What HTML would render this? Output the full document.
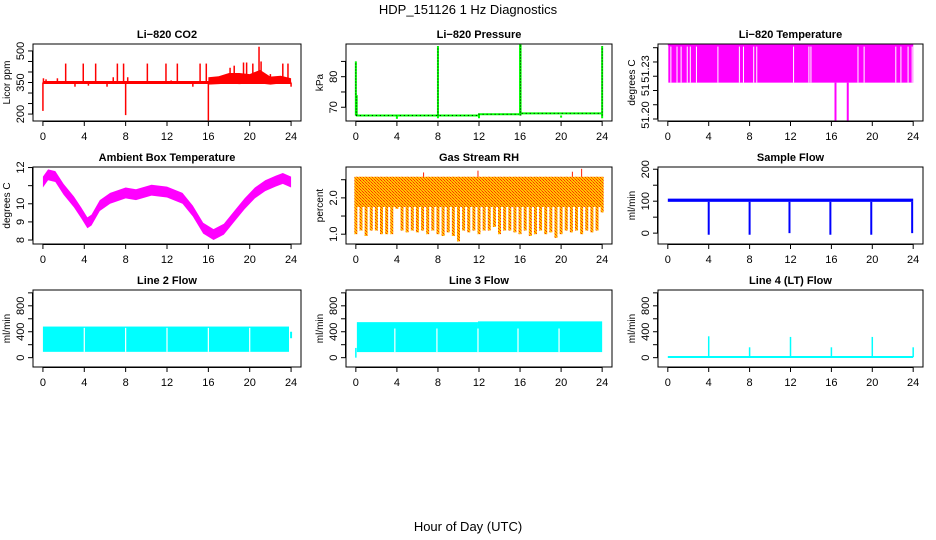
<!DOCTYPE html>
<html><head><meta charset="utf-8"><style>
html,body{margin:0;padding:0;background:#fff;}
svg{display:block;font-family:"Liberation Sans",sans-serif;}
</style></head><body>
<svg id="chart" width="936" height="540" viewBox="0 0 936 540" xmlns="http://www.w3.org/2000/svg">
<defs>
<pattern id="rhpat" width="3" height="3" patternUnits="userSpaceOnUse">
<rect width="3" height="3" fill="#ffc400"/><rect width="1" height="1" fill="#ff3000"/><rect x="1" y="1" width="1" height="1" fill="#ff6000"/><rect x="2" y="2" width="1" height="1" fill="#ff3000"/>
</pattern>
</defs>
<text x="468" y="14" text-anchor="middle" font-size="13">HDP_151126  1 Hz Diagnostics</text>
<text x="468" y="531" text-anchor="middle" font-size="13">Hour of Day (UTC)</text>
</svg>
<script>
// ---- data ----
const xTicks = [0,4,8,12,16,20,24];
// CO2
const co2Base = 350;
const co2SpikeT = [0,0.05,0.3,1.4,2.2,3.1,3.9,4.4,5.1,6.2,6.8,7.2,7.8,8.0,8.2,10.1,11.9,12.4,13.0,14.5,15.2,15.8,16.0,18.1,18.5,19.4,19.7,20.3,20.9,21.1,22.0,23.2,23.7,24];
const co2SpikeV = [215,370,365,370,440,330,440,335,440,330,375,440,440,195,375,440,440,360,440,330,440,440,170,420,430,445,445,440,520,450,390,440,440,330];
const co2BandT = [16,17,18,19,20,21,22,23,24];
const co2BandHi = [375,380,395,395,390,410,378,382,370];
const co2BandLo = [340,342,345,342,345,345,340,345,345];
// Pressure
const presBase = 67.3;
const presSpikeT = [0,0.08,8.0,16.0,16.05,24.0];
const presSpikeV = [85,74,90,90.5,90.5,90];
const presDipT = [4.0,8.0,12.0,20.0,24.0];
const presDipV = [66.2,66.4,66.4,66.6,66.4];
const presStepT = [12.0,16.0];
const presStepV = [67.7,68.0];
// Li-820 Temperature
const tempHi = 51.2522, tempLo = 51.2255;
const tempGapT = [0.3,0.9,1.3,1.9,2.2,2.8,4.9,7.0,7.4,8.4,8.7,12.3,13.8,14.0,18.6,19.2,22.3,22.8,23.5,23.9];
const tempDropT = [16.4,17.6];
const tempDropV = [51.199,51.199];
// Ambient box temperature
const ambT = [0,0.5,1.2,2,3,3.7,4.3,4.7,5.5,6.5,8,9,10.5,12,13.5,14.5,15.5,16.5,17.5,18.5,19.5,20.5,21.5,22.5,23.2,24];
const ambV = [11.2,11.6,11.5,10.8,10.1,9.5,8.95,9.1,9.9,10.3,10.6,10.5,10.75,10.65,10.3,9.6,8.65,8.3,8.6,9.3,10.0,10.6,11.0,11.25,11.4,11.2];
// Gas stream RH
const rhTop = 2.58;
const rhLow = [1.0,1.1,0.95,1.1,1.1,1.0,1.0,1.0,1.7,1.1,1.05,1.1,1.05,1.1,1.0,1.1,1.0,0.95,1.05,0.95,0.8,1.1,1.05,1.1,1.0,1.1,1.1,1.2,1.0,1.1,1.1,1.05,1.0,1.1,0.95,1.0,1.1,1.0,1.05,0.9,1.0,1.1,1.05,1.1,1.0,1.1,1.05,1.1,1.6];
const rhSpikeT = [6.6,11.9,21.1,22.0];
const rhSpikeV = [2.7,2.75,2.72,2.8];
// Sample flow
const sfHi = 108, sfLo = 98;
const sfDropT = [4,8,11.9,15.9,19.9,23.9];
const sfDropV = [-5,-5,0,-5,-5,0];
// Line 2
const l2Hi = 480, l2Lo = 90;
const l2GapT = [4,8,12,16,20];
// Line 3
const l3SegT = [0.1,11.9,24];
const l3Hi = [548,560];
const l3Lo = 86;
const l3GapT = [3.8,7.9,11.9,15.8,19.8];
// Line 4
const l4Base = 10;
const l4SpikeT = [4,8,12,16,20,24];
const l4SpikeV = [330,160,320,160,320,160];

// ---- layout ----
const NS = "http://www.w3.org/2000/svg";
const svg = document.getElementById('chart');
const cols = [[33,301],[346,612],[658,923]];
const rows = [[44,121],[167,244],[290,367]];
function mk(tag, attrs, parent){
  const e = document.createElementNS(NS, tag);
  for (const k in attrs) e.setAttribute(k, attrs[k]);
  (parent||svg).appendChild(e);
  return e;
}
function panel(ci, ri, title, ylab, ymin, ymax, yticks, ylabels, name){
  const [x0,x1] = cols[ci], [y0,y1] = rows[ri];
  const g = mk('g', {});
  
  
  const sx = t => x0 + (t + 0.96) / 25.92 * (x1 - x0);
  const sy = v => y1 - (v - ymin) / (ymax - ymin) * (y1 - y0);
  const plot = mk('g', {}, g);
  
  
  const fr = mk('rect', {x:x0, y:y0, width:x1-x0, height:y1-y0, fill:'none', stroke:'#000', 'stroke-width':1}, g);
  
  
  const tt = mk('text', {x:(x0+x1)/2, y:y0-6, 'text-anchor':'middle', 'font-size':11, 'font-weight':'bold'}, g);
  tt.textContent = title;
  
  
  mk('line', {x1:sx(0), x2:sx(24), y1:y1+0.5, y2:y1+0.5, stroke:'#000'}, g);
  xTicks.forEach(t => {
    mk('line', {x1:sx(t), x2:sx(t), y1:y1, y2:y1+5, stroke:'#000'}, g);
    const l = mk('text', {x:sx(t), y:y1+19, 'text-anchor':'middle', 'font-size':11}, g);
    l.textContent = t;
    
    
  });
  mk('line', {x1:x0-0.5, x2:x0-0.5, y1:sy(yticks[0]), y2:sy(yticks[yticks.length-1]), stroke:'#000'}, g);
  yticks.forEach(v => mk('line', {x1:x0-5, x2:x0, y1:sy(v), y2:sy(v), stroke:'#000'}, g));
  ylabels.forEach(v => {
    const yy = sy(v);
    const l = mk('text', {x:x0-9, y:yy, 'text-anchor':'middle', 'font-size':11, transform:`rotate(-90 ${x0-9} ${yy})`}, g);
    l.textContent = v;
    
    
  });
  const ym = (y0+y1)/2, yx = x0 - 23;
  const yl = mk('text', {x:yx, y:ym, 'text-anchor':'middle', 'font-size':10, transform:`rotate(-90 ${yx} ${ym})`}, g);
  yl.textContent = ylab;
  
  
  return {sx, sy, g:plot};
}
function vline(p, t, a, b, color, w, dash){
  const e = mk('line', {x1:p.sx(t), x2:p.sx(t), y1:p.sy(a), y2:p.sy(b), stroke:color, 'stroke-width':w||1}, p.g);
  if (dash) e.setAttribute('stroke-dasharray', dash);
}
function band(p, t0, t1, lo, hi, fill){
  mk('rect', {x:p.sx(t0), y:p.sy(hi), width:p.sx(t1)-p.sx(t0), height:p.sy(lo)-p.sy(hi), fill:fill}, p.g);
}

// CO2
let p = panel(0,0,'Li\u2212820 CO2','Licor ppm',167,533,[200,250,300,350,400,450,500],[200,350,500],'co2');
{
  let up = co2BandT.map((t,i)=>p.sx(t)+','+p.sy(co2BandHi[i])).join(' ');
  let dn = co2BandT.slice().reverse().map((t,i)=>p.sx(t)+','+p.sy(co2BandLo[co2BandT.length-1-i])).join(' ');
  mk('polygon', {points: up+' '+dn, fill:'#ff0000'}, p.g);
  mk('line', {x1:p.sx(0), x2:p.sx(24), y1:p.sy(co2Base), y2:p.sy(co2Base), stroke:'#ff0000', 'stroke-width':3}, p.g);
  co2SpikeT.forEach((t,i)=>vline(p,t,co2Base,co2SpikeV[i],'#ff0000',1.5));
}
// Pressure
p = panel(1,0,'Li\u2212820 Pressure','kPa',65.5,90.7,[70,75,80,85],[70,80],'pressure');
{
  let pts = [[0,presBase]];
  presStepT.forEach((t,i)=>{ pts.push([t, i? presStepV[i-1]:presBase]); pts.push([t, presStepV[i]]); });
  pts.push([24, presStepV[presStepV.length-1]]);
  const ps = pts.map(q=>p.sx(q[0])+','+p.sy(q[1])).join(' ');
  mk('polyline', {points: ps, fill:'none', stroke:'#00ff00', 'stroke-width':2}, p.g);
  mk('polyline', {points: ps, fill:'none', stroke:'#000', 'stroke-width':1, 'stroke-dasharray':'1,3'}, p.g);
  presSpikeT.forEach((t,i)=>{ vline(p,t,presBase,presSpikeV[i],'#00ff00',2); vline(p,t,presBase,presSpikeV[i],'#000',1,'1,2'); });
  presDipT.forEach((t,i)=>vline(p,t,presBase,presDipV[i],'#00ff00',2));
}
// Li-820 Temperature
p = panel(2,0,'Li\u2212820 Temperature','degrees C',51.1986,51.2526,[51.20,51.21,51.22,51.23,51.24,51.25],[],'li820-temperature');
{
  band(p, 0.05, 24, tempLo, tempHi, '#ff00ff');
  mk('line', {x1:p.sx(0), x2:p.sx(24), y1:p.sy(tempHi), y2:p.sy(tempHi), stroke:'#ff00ff', 'stroke-width':2}, p.g);
  tempGapT.forEach(t=>{ mk('line', {x1:p.sx(t), x2:p.sx(t), y1:p.sy(tempHi)+2, y2:p.sy(tempLo), stroke:'#fff', 'stroke-width':1}, p.g); });
  tempDropT.forEach((t,i)=>vline(p,t,tempLo,tempDropV[i],'#ff00ff',2));
  const g = p.g.parentNode;
  [['51.20',115],['51',90],['51.23',69]].forEach(a=>{
    const l = mk('text', {x:649, y:a[1], 'text-anchor':'middle', 'font-size':11, transform:`rotate(-90 649 ${a[1]})`}, g);
    l.textContent = a[0];
    
    
  });
}
// Ambient
p = panel(0,1,'Ambient Box Temperature','degrees C',7.78,12.03,[8,9,10,11,12],[8,9,10,12],'ambient-temperature');
{
  let up = ambT.map((t,i)=>p.sx(t)+','+p.sy(ambV[i]+0.3)).join(' ');
  let dn = ambT.map((t,i)=>[t,ambV[i]]).reverse().map(q=>p.sx(q[0])+','+p.sy(q[1]-0.3)).join(' ');
  mk('polygon', {points: up+' '+dn, fill:'#ff00ff'}, p.g);
}
// Gas stream RH
p = panel(1,1,'Gas Stream RH','percent',0.73,2.85,[1.0,1.5,2.0,2.5],['1.0','2.0'],'gas-stream-rh');
{
  band(p, 0, 24, 1.75, rhTop, 'url(#rhpat)');
  rhLow.forEach((v,i)=>{
    const t = i*0.5;
    mk('rect', {x:p.sx(t)-1.5, y:p.sy(rhTop), width:3, height:p.sy(v)-p.sy(rhTop), fill:'url(#rhpat)'}, p.g);
  });
  rhSpikeT.forEach((t,i)=>vline(p,t,rhTop,rhSpikeV[i],'#ff2000',1));
}
// Sample flow
p = panel(2,1,'Sample Flow','ml/min',-34,207,[0,50,100,150,200],[0,100,200],'sample-flow');
{
  band(p, 0, 24, sfLo, sfHi, '#0000ff');
  sfDropT.forEach((t,i)=>vline(p,t,sfLo,sfDropV[i],'#0000ff',2));
}
// Line 2
p = panel(0,2,'Line 2 Flow','ml/min',-144,1044,[0,200,400,600,800,1000],[0,400,800],'line2-flow');
{
  band(p, 0, 23.8, l2Lo, l2Hi, '#00ffff');
  l2GapT.forEach(t=>mk('line', {x1:p.sx(t), x2:p.sx(t), y1:p.sy(l2Hi-20), y2:p.sy(l2Lo), stroke:'#fff', 'stroke-width':1.2}, p.g));
  vline(p, 24, 300, 400, '#00ffff', 2);
}
// Line 3
p = panel(1,2,'Line 3 Flow','ml/min',-144,1044,[0,200,400,600,800,1000],[0,400,800],'line3-flow');
{
  l3Hi.forEach((h,i)=>band(p, l3SegT[i], l3SegT[i+1], l3Lo, h, '#00ffff'));
  l3GapT.forEach(t=>mk('line', {x1:p.sx(t), x2:p.sx(t), y1:p.sy(450), y2:p.sy(l3Lo), stroke:'#fff', 'stroke-width':1.2}, p.g));
  vline(p, 0, 0, 150, '#00ffff', 1.5);
}
// Line 4
p = panel(2,2,'Line 4 (LT) Flow','ml/min',-144,1044,[0,200,400,600,800,1000],[0,400,800],'line4-flow');
{
  mk('line', {x1:p.sx(0), x2:p.sx(24), y1:p.sy(l4Base), y2:p.sy(l4Base), stroke:'#00ffff', 'stroke-width':2}, p.g);
  l4SpikeT.forEach((t,i)=>vline(p,t,l4Base,l4SpikeV[i],'#00ffff',1.5));
}
</script>
</body></html>
